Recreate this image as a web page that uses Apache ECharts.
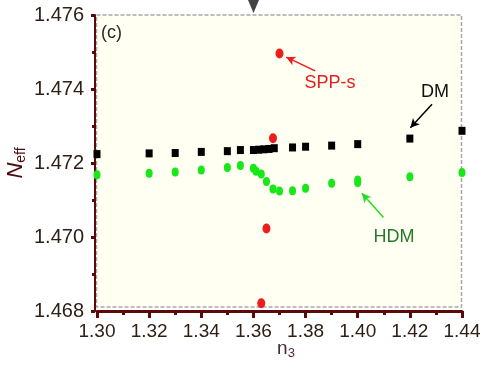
<!DOCTYPE html>
<html><head><meta charset="utf-8">
<script src="https://cdn.jsdelivr.net/npm/echarts@6/dist/echarts.min.js"></script>
<style>html,body{margin:0;padding:0;background:#fff}#c{width:488px;height:389px}</style>
</head><body><div id="c"></div>
<script>
// Data
const dmX  = [1.30, 1.32, 1.33, 1.34, 1.35, 1.355, 1.36, 1.362, 1.364, 1.366, 1.368, 1.375, 1.38, 1.39, 1.40, 1.42, 1.44];
const dmY  = [1.47224, 1.47226, 1.47227, 1.47230, 1.47232, 1.47235, 1.47235, 1.47236, 1.47237, 1.47238, 1.47240, 1.47242, 1.47244, 1.47247, 1.47251, 1.47266, 1.47287];
const hdmX = [1.30, 1.32, 1.33, 1.34, 1.35, 1.355, 1.36, 1.361, 1.363, 1.365, 1.3675, 1.37, 1.375, 1.38, 1.39, 1.40, 1.40, 1.42, 1.44];
const hdmY = [1.47168, 1.47172, 1.47176, 1.47181, 1.47188, 1.47193, 1.47186, 1.47178, 1.47170, 1.47150, 1.47130, 1.47124, 1.47125, 1.47132, 1.47145, 1.47154, 1.47147, 1.47163, 1.47174];
const sppX = [1.363, 1.365, 1.3675, 1.370];
const sppY = [1.46821, 1.47023, 1.47267, 1.47496];
const xTicks = [1.30, 1.32, 1.34, 1.36, 1.38, 1.40, 1.42, 1.44];
const yTicks = [1.468, 1.470, 1.472, 1.474, 1.476];

const zip = (a, b) => a.map((v, i) => [v, b[i]]);
const maroon = '#5a0a0a';
const font = 'Liberation Sans, Arial, sans-serif';

const chart = echarts.init(document.getElementById('c'), null, {renderer: 'canvas'});
chart.setOption({
  animation: false,
  backgroundColor: '#ffffff',
  grid: {left: 97, right: 26, top: 15, bottom: 78, show: false},
  xAxis: [{
    type: 'value', min: xTicks[0], max: xTicks[xTicks.length - 1], interval: 0.02,
    axisLine: {show: true, onZero: false, lineStyle: {color: maroon, width: 3}},
    axisTick: {show: true, length: 7, lineStyle: {color: maroon, width: 3}},
    minorTick: {show: true, splitNumber: 2, length: 4, lineStyle: {color: maroon, width: 3}},
    splitLine: {show: false},
    axisLabel: {margin: 11, fontSize: 19, fontFamily: font, color: '#2e2016', formatter: v => v.toFixed(2)}
  }],
  yAxis: [{
    type: 'value', min: yTicks[0], max: yTicks[yTicks.length - 1], interval: 0.002, offset: 2,
    axisLine: {show: true, onZero: false, lineStyle: {color: maroon, width: 2}},
    axisTick: {show: true, length: 4, lineStyle: {color: maroon, width: 3}},
    minorTick: {show: true, splitNumber: 2, length: 3, lineStyle: {color: maroon, width: 3}},
    splitLine: {show: false},
    axisLabel: {margin: 11, fontSize: 20, fontFamily: font, color: '#2e2016', formatter: v => v.toFixed(3)}
  }],
  series: [{
    name: 'DM', type: 'scatter', symbol: 'rect', symbolSize: [7, 8],
    itemStyle: {color: '#000000', opacity: 1}, data: zip(dmX, dmY),
    markLine: {silent: true, symbol: ['none', 'arrow'], symbolSize: [7, 9], label: {show: false},
      lineStyle: {color: '#000', width: 1.5, type: 'solid'},
      data: [[{coord: [1.4285, 1.47359]}, {coord: [1.4202, 1.47295]}]]}
  }, {
    name: 'HDM', type: 'scatter', symbol: 'circle', symbolSize: [7, 9],
    itemStyle: {color: '#18e818', opacity: 1}, data: zip(hdmX, hdmY),
    markLine: {silent: true, symbol: ['none', 'arrow'], symbolSize: [7, 9], label: {show: false},
      lineStyle: {color: '#22dd22', width: 1.5, type: 'solid'},
      data: [[{coord: [1.4099, 1.47053]}, {coord: [1.4016, 1.47118]}]]}
  }, {
    name: 'SPP-s', type: 'scatter', symbol: 'circle', symbolSize: [8, 10],
    itemStyle: {color: '#ee1c1c', opacity: 1}, data: zip(sppX, sppY),
    markLine: {silent: true, symbol: ['none', 'arrow'], symbolSize: [7, 9], label: {show: false},
      lineStyle: {color: '#ee1c1c', width: 1.5, type: 'solid'},
      data: [[{coord: [1.3837, 1.47449]}, {coord: [1.3726, 1.47486]}]]}
  }],
  graphic: [
    {type: 'rect', z: -10, shape: {x: 96.5, y: 15, width: 365, height: 292},
      style: {fill: '#fffff2', stroke: '#a8a8a8', lineWidth: 1.5, lineDash: [4, 2]}},
    {type: 'polygon', shape: {points: [[248, 0], [259, 0], [253.5, 13]]}, style: {fill: '#444'}},
    {type: 'text', x: 101, y: 33, style: {text: '(c)', font: '18px ' + font, fill: '#2a2a2a', verticalAlign: 'middle'}},
    {type: 'text', x: 330, y: 83, style: {text: 'SPP-s', font: '18px ' + font, fill: '#e41e1e', align: 'center', verticalAlign: 'middle'}},
    {type: 'text', x: 435, y: 92, style: {text: 'DM', font: '18px ' + font, fill: '#111', align: 'center', verticalAlign: 'middle'}},
    {type: 'text', x: 394, y: 237, style: {text: 'HDM', font: '18px ' + font, fill: '#237a2a', align: 'center', verticalAlign: 'middle'}},
    {type: 'text', x: 16, y: 163, rotation: Math.PI / 2,
      style: {text: '{n|N}{s|eff}', align: 'center', verticalAlign: 'middle',
        rich: {n: {font: 'italic 22px ' + font, fill: '#4a0c0c'}, s: {font: '14px ' + font, fill: '#4a0c0c', padding: [10, 0, 0, 0]}}}},
    {type: 'text', x: 286, y: 349,
      style: {text: '{n|n}{s|3}', align: 'center', verticalAlign: 'middle',
        rich: {n: {font: '19px ' + font, fill: '#4a2a2a'}, s: {font: '13px ' + font, fill: '#4a2a2a', padding: [8, 0, 0, 0]}}}}
  ]
});
</script></body></html>
